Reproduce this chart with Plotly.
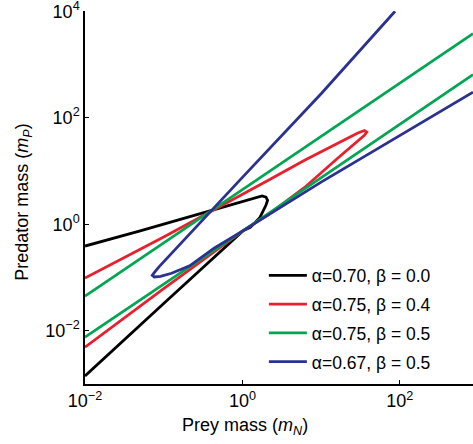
import plotly.graph_objects as go

# Values are log10 of masses
black_prey_exp = [-2.0, -1.31, -0.39, -0.04, 0.15, 0.25, 0.30, 0.32, 0.30, 0.22, 0.10, 0.01, -1.0, -2.0]
black_pred_exp = [-0.41, -0.13, 0.26, 0.40, 0.49, 0.53, 0.51, 0.45, 0.36, 0.12, -0.06, -0.12, -1.49, -2.85]

red_prey_exp = [-2.0, -1.0, -0.39, -0.06, 0.37, 0.79, 1.21, 1.46, 1.55, 1.58, 1.55, 1.21, 0.79, 0.50, 0.32, 0.01, -1.0, -2.0]
red_pred_exp = [-1.01, -0.24, 0.25, 0.51, 0.86, 1.20, 1.52, 1.71, 1.76, 1.73, 1.67, 1.24, 0.69, 0.36, 0.17, -0.12, -1.21, -2.31]

green_prey_exp = [-2.0, -0.39, 2.93, None, -2.0, 0.01, 2.93]
green_pred_exp = [-1.35, 0.26, 3.58, None, -2.12, -0.12, 2.81]

blue_prey_exp = [1.94, 1.0, 0.0, -0.39, -0.6, -0.8, -0.95, -1.06, -1.12, -1.145, -1.12, -1.04, -0.9, -0.67, -0.36, 0.01, 1.0, 2.0, 2.93]
blue_pred_exp = [4.0, 2.45, 0.88, 0.26, -0.08, -0.38, -0.63, -0.80, -0.91, -0.96, -0.99, -0.98, -0.92, -0.78, -0.45, -0.12, 0.79, 1.66, 2.48]

series = [
    ("α=0.70, β = 0.0", black_prey_exp, black_pred_exp, "#000000"),
    ("α=0.75, β = 0.4", red_prey_exp, red_pred_exp, "#e8202d"),
    ("α=0.75, β = 0.5", green_prey_exp, green_pred_exp, "#00a651"),
    ("α=0.67, β = 0.5", blue_prey_exp, blue_pred_exp, "#2b3190"),
]

x_tickvals = [1e-2, 1, 1e2]
x_ticktext = ["10<sup>−2</sup>", "10<sup>0</sup>", "10<sup>2</sup>"]
y_tickvals = [1e-2, 1, 1e2, 1e4]
y_ticktext = ["10<sup>−2</sup>", "10<sup>0</sup>", "10<sup>2</sup>", "10<sup>4</sup>"]

def tov(arr):
    return [None if v is None else 10 ** v for v in arr]

fig = go.Figure()
for i, (name, xs, ys, col) in enumerate(series):
    fig.add_trace(go.Scatter(
        x=tov(xs), y=tov(ys), mode="lines", name=name,
        line=dict(color=col, width=2.8),
        legendgroup=str(i), connectgaps=False,
    ))

font_family = "Liberation Sans, Arial, sans-serif"
fig.update_layout(
    width=473, height=444,
    margin=dict(l=85, r=0, t=11, b=60, autoexpand=False),
    paper_bgcolor="white", plot_bgcolor="white",
    font=dict(family=font_family, size=18, color="black"),
    showlegend=True,
    legend=dict(x=0.461, y=0.339, xanchor="left", yanchor="top",
                bgcolor="rgba(0,0,0,0)", font=dict(size=17.5),
                tracegroupgap=3, itemwidth=38, traceorder="grouped"),
    xaxis=dict(type="log", range=[-2, 2.93], tickvals=x_tickvals, ticktext=x_ticktext,
               showline=True, linecolor="black", linewidth=1.5, ticks="inside",
               ticklen=4, tickcolor="black", showgrid=False, zeroline=False,
               automargin=False, ticklabeloverflow="allow", tickfont=dict(size=18)),
    yaxis=dict(type="log", range=[-3, 4.004], tickvals=y_tickvals, ticktext=y_ticktext,
               showline=True, linecolor="black", linewidth=1.5, ticks="inside",
               ticklen=4, tickcolor="black", showgrid=False, zeroline=False,
               automargin=False, ticklabeloverflow="allow", tickfont=dict(size=18)),
    annotations=[
        dict(text="Prey mass (<i>m</i><sub><i>N</i></sub>)", x=0.412, y=-0.115,
             xref="paper", yref="paper", xanchor="center", yanchor="middle",
             showarrow=False, font=dict(size=18)),
        dict(text="Predator mass (<i>m</i><sub><i>P</i></sub>)", x=-0.157, y=0.486,
             xref="paper", yref="paper", xanchor="center", yanchor="middle",
             textangle=-90, showarrow=False, font=dict(size=18)),
    ],
)

fig.write_html("out.html", config={"displayModeBar": False},
               post_script="document.body.style.margin='0';document.body.style.overflow='hidden';")
